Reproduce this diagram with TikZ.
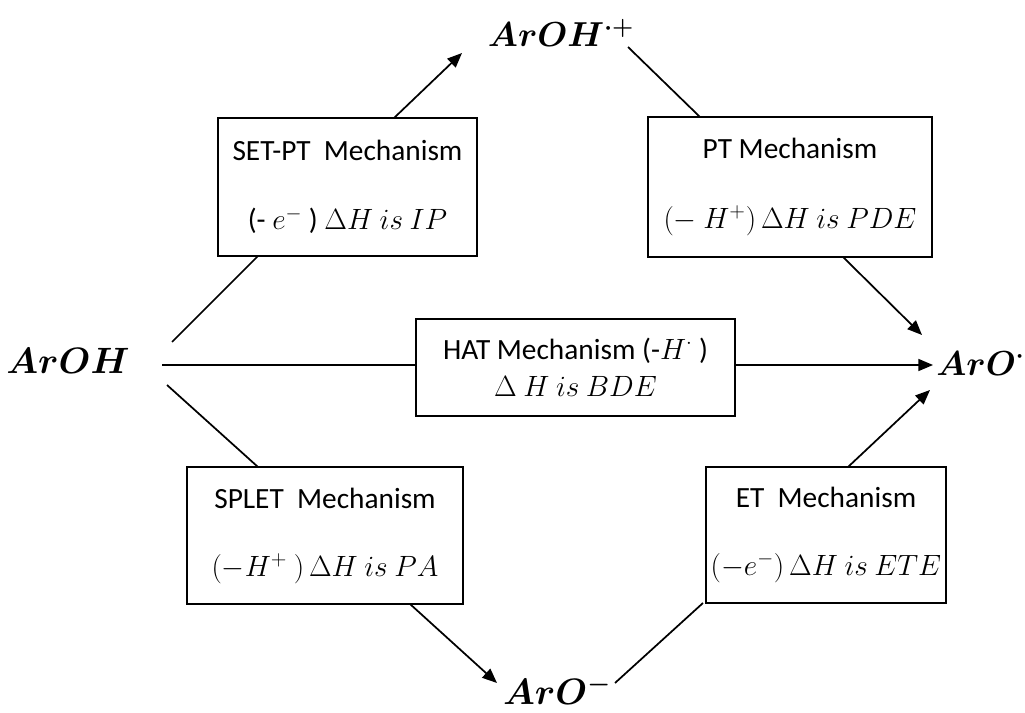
\RequirePackage{fix-cm}
\documentclass[tikz,border=0pt]{standalone}
\usepackage{fontspec}
\setmainfont{Carlito}
\usepackage{pgf, tikz}
\usetikzlibrary{arrows.meta}
\pgfdeclarelayer{edgelayer}
\pgfdeclarelayer{nodelayer}
\pgfsetlayers{edgelayer,nodelayer,main}
\tikzstyle{edge}=[draw=black, line width=1.3pt]
\tikzstyle{arrow}=[draw=black, line width=1.3pt, -{Triangle[length=11pt,width=9pt]}]
\tikzstyle{mechbox}=[rectangle, fill=white, draw=black, line width=1.1pt, align=center, inner sep=0pt, font=\fontsize{22}{27}\selectfont]
\tikzstyle{species}=[inner sep=0pt, font=\fontsize{27.5}{33}\selectfont\boldmath]

\begin{document}
\begin{tikzpicture}[x=0.75pt, y=-0.75pt]
			\useasboundingbox (0, 0) rectangle (1025, 713);
			\begin{pgfonlayer}{nodelayer}
			\node [style=species] (aroh) at (68, 361) {$ArOH$};
			\node [style=species, font=\fontsize{26}{31}\selectfont\boldmath] (arohcat) at (561, 33) {$ArOH^{\cdot+}$};
			\node [style=species, font=\fontsize{26}{31}\selectfont\boldmath, anchor=west] (arorad) at (936, 363) {$ArO^{\cdot}$};
			\node [style=species] (aroan) at (557, 690) {$ArO^{-}$};
			\node [style=mechbox, minimum width=194pt, minimum height=103.5pt] (setpt) at (347.5, 187) {SET-PT\ \ Mechanism\\[25pt](- $e^{-}$ ) $\Delta H~is~IP$};
			\node [style=mechbox, minimum width=213pt, minimum height=105pt] (pt) at (790, 187) {PT Mechanism\\[25pt]$(-~H^{+})\,\Delta H~is~PDE$};
			\node [style=mechbox, minimum width=239pt, minimum height=73pt] (hat) at (575.5, 367.5) {HAT Mechanism (-$H^{\cdot}$ )\\[1pt]$\Delta~H~is~BDE$};
			\node [style=mechbox, minimum width=207pt, minimum height=103pt] (splet) at (325, 535.5) {SPLET\ \ Mechanism\\[24pt]$(-H^{+}~)\,\Delta H~is~PA$};
			\node [style=mechbox, minimum width=180pt, minimum height=102pt] (et) at (826, 535) {ET\ \ Mechanism\\[24pt]$(-e^{-})\,\Delta H~is~ETE$};
			\coordinate (aroh-up) at (172, 342);
			\coordinate (aroh-mid) at (162, 365);
			\coordinate (aroh-down) at (167, 385);
			\coordinate (setpt-in) at (258, 256);
			\coordinate (setpt-out) at (394, 118);
			\coordinate (arohcat-in) at (462, 53);
			\coordinate (arohcat-out) at (628, 47);
			\coordinate (pt-in) at (700, 117);
			\coordinate (pt-out) at (843, 257);
			\coordinate (hat-in) at (416, 365);
			\coordinate (hat-out) at (735, 365);
			\coordinate (arorad-top) at (922, 335);
			\coordinate (arorad-mid) at (933, 365);
			\coordinate (arorad-bot) at (930, 390);
			\coordinate (splet-in) at (258, 467);
			\coordinate (splet-out) at (410, 604);
			\coordinate (aroan-in) at (497, 683);
			\coordinate (aroan-out) at (615, 683);
			\coordinate (et-in) at (703, 603);
			\coordinate (et-out) at (848, 467);
			\end{pgfonlayer}
			\begin{pgfonlayer}{edgelayer}
			\draw [style=edge] (aroh-up) to (setpt-in);
			\draw [style=arrow] (setpt-out) to (arohcat-in);
			\draw [style=edge] (arohcat-out) to (pt-in);
			\draw [style=arrow] (pt-out) to (arorad-top);
			\draw [style=edge] (aroh-mid) to (hat-in);
			\draw [style=arrow] (hat-out) to (arorad-mid);
			\draw [style=edge] (aroh-down) to (splet-in);
			\draw [style=arrow] (splet-out) to (aroan-in);
			\draw [style=edge] (aroan-out) to (et-in);
			\draw [style=arrow] (et-out) to (arorad-bot);
			\end{pgfonlayer}
\end{tikzpicture}
\end{document}
